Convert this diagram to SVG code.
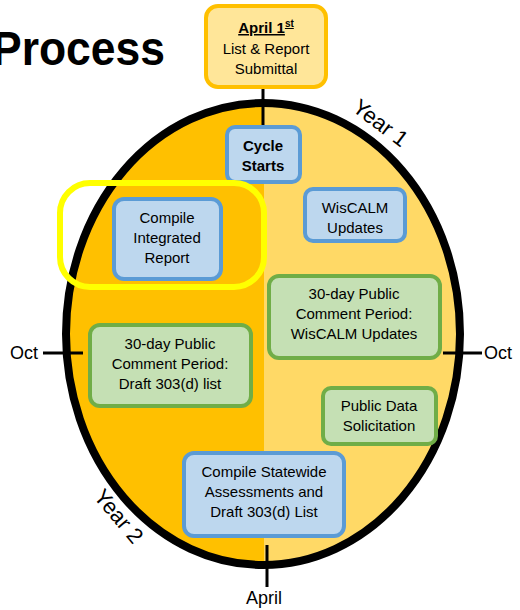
<svg xmlns="http://www.w3.org/2000/svg" width="520" height="610" viewBox="0 0 520 610">
<style>
text{font-family:"Liberation Sans",Arial,sans-serif;fill:#000}
.t{font-size:15px;text-anchor:middle}
.b{font-weight:bold}
.blue{fill:#BDD7EE;stroke:#5B9BD5;stroke-width:4}
.green{fill:#C5E0B4;stroke:#70AD47;stroke-width:4}
.ln{stroke:#000;stroke-width:3;fill:none}
</style>
<defs>
<clipPath id="ell"><ellipse cx="263" cy="334" rx="197" ry="231"/></clipPath>
</defs>
<rect width="520" height="610" fill="#fff"/>
<text x="-8" y="65" font-size="48" font-weight="bold" textLength="173" lengthAdjust="spacingAndGlyphs">Process</text>
<g id="cycle">
<g clip-path="url(#ell)">
<rect x="60" y="100" width="204" height="470" fill="#FFC000"/>
<rect x="264" y="100" width="200" height="470" fill="#FFD966"/>
</g>
<ellipse cx="263" cy="334" rx="197" ry="231" fill="none" stroke="#000" stroke-width="8"/>
</g>
<g id="connectors">
<line class="ln" x1="263" y1="88" x2="263" y2="128" stroke-width="4"/>
<line class="ln" x1="43" y1="353" x2="83" y2="353"/>
<line class="ln" x1="443" y1="353" x2="482" y2="353"/>
<line class="ln" x1="267" y1="545" x2="267" y2="587"/>
</g>
<g id="labels">
<text x="10" y="359" font-size="18">Oct</text>
<text x="484" y="359" font-size="18">Oct</text>
<text x="264" y="604" font-size="18" text-anchor="middle">April</text>
<text transform="translate(376,129) rotate(37)" font-size="22" text-anchor="middle">Year 1</text>
<text transform="translate(113,521) rotate(50)" font-size="22" text-anchor="middle">Year 2</text>
</g>
<g id="april1">
<rect x="206" y="6" width="120" height="81" rx="12" fill="#FFE699" stroke="#FFC000" stroke-width="4"/>
<text class="t b" x="266" y="33" text-decoration="underline">April 1<tspan font-size="10" dy="-6">st</tspan></text>
<text class="t" x="266" y="54">List &amp; Report</text>
<text class="t" x="266" y="74">Submittal</text>
</g>
<g id="cycle-starts">
<rect class="blue" x="227" y="127" width="73" height="55" rx="8"/>
<text class="t b" x="263" y="151">Cycle</text>
<text class="t b" x="263" y="171">Starts</text>
</g>
<g id="highlight">
<rect x="60" y="183" width="204" height="104" rx="30" fill="none" stroke="#FFFF00" stroke-width="6"/>
</g>
<g id="compile-report">
<rect class="blue" x="114" y="199" width="107" height="80" rx="10"/>
<text class="t" x="167" y="223">Compile</text>
<text class="t" x="167" y="243">Integrated</text>
<text class="t" x="167" y="263">Report</text>
</g>
<g id="wiscalm">
<rect class="blue" x="305" y="189" width="100" height="52" rx="8"/>
<text class="t" x="355" y="213">WisCALM</text>
<text class="t" x="355" y="233">Updates</text>
</g>
<g id="comment-wiscalm">
<rect class="green" x="269" y="276" width="171" height="82" rx="10"/>
<text class="t" x="354" y="299">30-day Public</text>
<text class="t" x="354" y="319">Comment Period:</text>
<text class="t" x="354" y="339">WisCALM Updates</text>
</g>
<g id="comment-303d">
<rect class="green" x="90" y="325" width="161" height="81" rx="10"/>
<text class="t" x="170" y="349">30-day Public</text>
<text class="t" x="170" y="369">Comment Period:</text>
<text class="t" x="170" y="389">Draft 303(d) list</text>
</g>
<g id="public-data">
<rect class="green" x="323" y="388" width="113" height="56" rx="8"/>
<text class="t" x="379" y="411">Public Data</text>
<text class="t" x="379" y="431">Solicitation</text>
</g>
<g id="compile-statewide">
<rect class="blue" x="184" y="453" width="160" height="83" rx="10"/>
<text class="t" x="264" y="477">Compile Statewide</text>
<text class="t" x="264" y="497">Assessments and</text>
<text class="t" x="264" y="517">Draft 303(d) List</text>
</g>
</svg>
